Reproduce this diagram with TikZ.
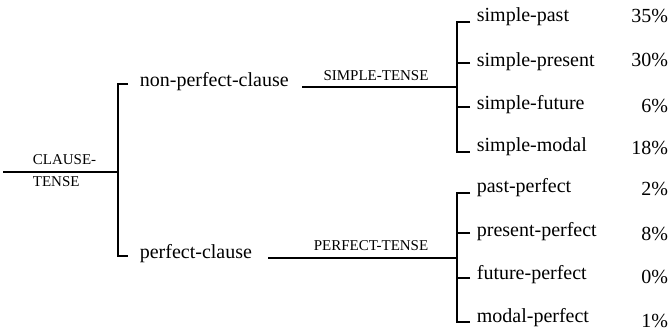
\documentclass[tikz,border=0pt]{standalone}
\usepackage{fontspec}
\setmainfont{Liberation Serif}
\begin{document}
\begin{tikzpicture}[x=1pt,y=-1pt,line width=1.7pt,
  lbl/.style={inner sep=0pt,text height=13.6pt,text depth=4.4pt,font=\fontsize{20}{24}\selectfont},
  caplbl/.style={inner sep=0pt,font=\fontsize{15}{22}\selectfont},
  pct/.style={lbl,anchor=east}]
\useasboundingbox (0,0) rectangle (670,333);
% root
\coordinate (root) at (3,172);
\coordinate (j0) at (118,172);
\draw (root) -- (j0);
\node[caplbl,align=left,anchor=west] (ct) at (32,171) {CLAUSE-\\TENSE};
% first bracket
\coordinate (a1) at (128,84);
\coordinate (a2) at (128,256);
\draw (a1) -| (j0) |- (a2);
\node[lbl,anchor=west] (np) at (139,82) {non-perfect-clause};
\node[lbl,anchor=west] (pc) at (139,254) {perfect-clause};
% middle lines
\coordinate (s0) at (302,87);
\coordinate (j1) at (457,87);
\draw (s0) -- (j1);
\node[caplbl] (st) at (376,76) {SIMPLE-TENSE};
\coordinate (p0) at (268,258);
\coordinate (j2) at (457,258);
\draw (p0) -- (j2);
\node[caplbl] (pt) at (371,246) {PERFECT-TENSE};
% upper bracket
\coordinate (u1) at (470,22);
\coordinate (u2) at (470,63);
\coordinate (u3) at (470,107);
\coordinate (u4) at (470,152);
\draw (u1) -| (j1) |- (u4);
\draw (u2) -- (u2 -| j1);
\draw (u3) -- (u3 -| j1);
% lower bracket
\coordinate (l1) at (470,193);
\coordinate (l2) at (470,233);
\coordinate (l3) at (470,278);
\coordinate (l4) at (470,322);
\draw (l1) -| (j2) |- (l4);
\draw (l2) -- (l2 -| j2);
\draw (l3) -- (l3 -| j2);
% items
\node[lbl,anchor=west] (i1) at (476,17) {simple-past};
\node[lbl,anchor=west] (i2) at (476,62) {simple-present};
\node[lbl,anchor=west] (i3) at (476,105) {simple-future};
\node[lbl,anchor=west] (i4) at (476,147) {simple-modal};
\node[lbl,anchor=west] (i5) at (476,188) {past-perfect};
\node[lbl,anchor=west] (i6) at (476,232) {present-perfect};
\node[lbl,anchor=west] (i7) at (476,275) {future-perfect};
\node[lbl,anchor=west] (i8) at (476,318) {modal-perfect};
% percentages
\node[pct] (q1) at (669,18) {35\%};
\node[pct] (q2) at (669,62) {30\%};
\node[pct] (q3) at (669,108) {6\%};
\node[pct] (q4) at (669,150) {18\%};
\node[pct] (q5) at (669,191) {2\%};
\node[pct] (q6) at (669,236) {8\%};
\node[pct] (q7) at (669,279) {0\%};
\node[pct] (q8) at (669,323) {1\%};
\end{tikzpicture}
\end{document}
